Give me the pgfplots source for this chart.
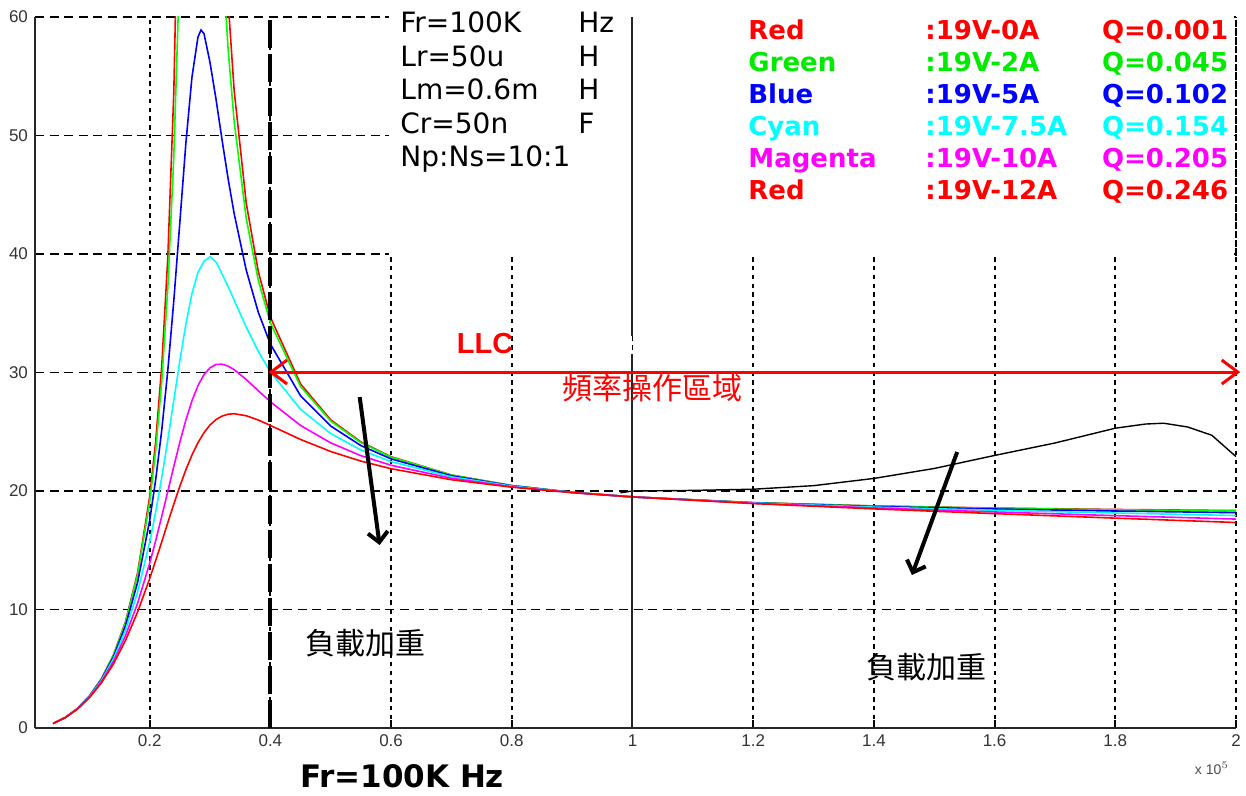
\documentclass[border=0pt]{standalone}
\usepackage{fontspec}
\setmainfont{Liberation Sans}
\newfontfamily\dejavu{DejaVu Sans}
\newfontfamily\cjk{Noto Sans CJK TC}
\usepackage{pgfplots}
\pgfplotsset{compat=1.18}
\usetikzlibrary{arrows.meta}

\definecolor{pred}{RGB}{255,0,0}
\definecolor{pgreen}{RGB}{0,255,0}
\definecolor{pblue}{RGB}{0,0,255}
\definecolor{pcyan}{RGB}{0,255,255}
\definecolor{pmag}{RGB}{255,0,255}
\definecolor{tgreen}{RGB}{0,235,0}

\begin{document}
\begin{tikzpicture}
\begin{axis}[
  at={(0pt,0pt)}, anchor=south west,
  scale only axis, width=600.5pt, height=355.5pt,
  xmin=0.01, xmax=2, ymin=0, ymax=60,
  axis lines=left, axis line style={-, line width=1pt, black!85},
  xtick={0.2,0.4,0.6,0.8,1,1.2,1.4,1.6,1.8,2},
  xticklabels={0.2,0.4,0.6,0.8,1,1.2,1.4,1.6,1.8,2},
  ytick={0,10,20,30,40,50,60},
  tick align=inside, major tick length=4pt,
  tick style={black, line width=0.9pt},
  tick label style={font=\fontsize{8.5}{8.5}\selectfont, text=black!80},
  /pgf/number format/assume math mode=true,
  grid=major,
  major x grid style={black, line width=0.9pt, dash pattern=on 2.2pt off 2.2pt},
  major y grid style={black, line width=0.9pt, dash pattern=on 4.5pt off 2.8pt},
  clip mode=individual,
  every axis plot/.append style={line width=0.8pt, mark=none},
]
% Q=0.001
\addplot[pred] coordinates {
(0.04,0.38)(0.06,0.88)(0.08,1.63)(0.10,2.69)(0.12,4.15)(0.14,6.16)(0.16,8.98)(0.18,13.10)
(0.20,19.50)(0.21,24.18)(0.22,30.54)(0.23,39.64)(0.24,53.66)(0.25,78.0)(0.26,130.5)(0.27,326)
(0.28,960)(0.29,211)(0.30,123.9)(0.31,90.2)(0.32,72.35)(0.33,61.30)(0.34,53.80)(0.36,44.29)
(0.38,38.52)(0.40,34.67)(0.45,29.03)(0.50,26.00)(0.55,24.14)(0.60,22.89)(0.70,21.35)(0.80,20.46)
(0.90,19.89)(1.0,19.50)(1.2,19.02)(1.4,18.74)(1.6,18.56)(1.8,18.44)(2.0,18.35)};
% Q=0.045
\addplot[pgreen] coordinates {
(0.04,0.38)(0.06,0.88)(0.08,1.63)(0.10,2.69)(0.12,4.13)(0.14,6.13)(0.16,8.91)(0.18,12.93)
(0.20,19.06)(0.21,23.44)(0.22,29.21)(0.23,37.10)(0.24,48.26)(0.25,64.65)(0.26,88.7)(0.27,117.7)
(0.28,130.4)(0.29,115.0)(0.30,93.6)(0.31,77.1)(0.32,65.51)(0.33,57.27)(0.34,51.19)(0.36,42.99)
(0.38,37.77)(0.40,34.19)(0.45,28.82)(0.50,25.90)(0.55,24.08)(0.60,22.86)(0.70,21.34)(0.80,20.45)
(0.90,19.89)(1.0,19.50)(1.2,19.01)(1.4,18.73)(1.6,18.54)(1.8,18.41)(2.0,18.32)};
% Q=0.102
\addplot[pblue] coordinates {
(0.04,0.38)(0.06,0.88)(0.08,1.63)(0.10,2.66)(0.12,4.08)(0.14,6.00)(0.16,8.63)(0.18,12.29)
(0.20,17.51)(0.21,20.96)(0.22,25.12)(0.23,30.15)(0.24,36.06)(0.25,42.67)(0.26,49.36)(0.27,54.89)
(0.28,58.3)(0.285,58.9)(0.29,58.6)(0.30,56.16)(0.31,53.04)(0.32,49.61)(0.33,46.34)(0.34,43.41)
(0.36,38.64)(0.38,35.08)(0.40,32.40)(0.45,28.03)(0.50,25.48)(0.55,23.83)(0.60,22.71)(0.70,21.28)
(0.80,20.44)(0.90,19.88)(1.0,19.50)(1.2,19.00)(1.4,18.69)(1.6,18.48)(1.8,18.31)(2.0,18.17)};
% Q=0.154
\addplot[pcyan] coordinates {
(0.04,0.38)(0.06,0.88)(0.08,1.61)(0.10,2.63)(0.12,4.00)(0.14,5.83)(0.16,8.24)(0.18,11.45)
(0.20,15.68)(0.21,18.25)(0.22,21.13)(0.23,24.30)(0.24,27.64)(0.25,30.99)(0.26,34.08)(0.27,36.65)
(0.28,38.44)(0.29,39.39)(0.30,39.76)(0.31,39.33)(0.32,38.30)(0.33,37.25)(0.34,36.10)(0.36,33.82)
(0.38,31.78)(0.40,30.05)(0.45,26.89)(0.50,24.85)(0.55,23.46)(0.60,22.48)(0.70,21.19)(0.80,20.41)
(0.90,19.88)(1.0,19.50)(1.2,18.99)(1.4,18.64)(1.6,18.37)(1.8,18.14)(2.0,17.93)};
% Q=0.205
\addplot[pmag] coordinates {
(0.04,0.38)(0.06,0.87)(0.08,1.60)(0.10,2.59)(0.12,3.90)(0.14,5.61)(0.16,7.78)(0.18,10.53)
(0.20,13.90)(0.21,15.81)(0.22,17.85)(0.23,19.96)(0.24,22.08)(0.25,24.12)(0.26,25.99)(0.27,27.60)
(0.28,28.89)(0.29,29.82)(0.30,30.40)(0.31,30.68)(0.32,30.70)(0.33,30.54)(0.34,30.24)(0.36,29.41)
(0.38,28.46)(0.40,27.53)(0.45,25.53)(0.50,24.06)(0.55,22.98)(0.60,22.17)(0.70,21.07)(0.80,20.36)
(0.90,19.87)(1.0,19.50)(1.2,18.96)(1.4,18.57)(1.6,18.23)(1.8,17.92)(2.0,17.63)};
% Q=0.246
\addplot[pred] coordinates {
(0.04,0.38)(0.06,0.87)(0.08,1.58)(0.10,2.55)(0.12,3.81)(0.14,5.41)(0.16,7.39)(0.18,9.79)
(0.20,12.60)(0.21,14.13)(0.22,15.71)(0.23,17.32)(0.24,18.89)(0.25,20.40)(0.26,21.79)(0.27,23.03)
(0.28,24.07)(0.29,24.92)(0.30,25.57)(0.31,26.03)(0.32,26.32)(0.33,26.48)(0.34,26.52)(0.36,26.35)
(0.38,25.99)(0.40,25.53)(0.45,24.35)(0.50,23.33)(0.55,22.52)(0.60,21.88)(0.70,20.95)(0.80,20.32)
(0.90,19.86)(1.0,19.50)(1.2,18.94)(1.4,18.49)(1.6,18.09)(1.8,17.71)(2.0,17.34)};
% black curve
\addplot[black, line width=0.7pt] coordinates {
(0.98,19.85)(1.0,20.0)(1.1,20.05)(1.2,20.15)(1.3,20.45)(1.4,21.06)(1.5,21.9)(1.6,23.0)
(1.7,24.05)(1.8,25.3)(1.85,25.65)(1.88,25.72)(1.92,25.4)(1.96,24.7)(2.0,22.9)};

% boxes that hide the grid behind the text
\fill[white] (axis cs:0.597,39.85) rectangle (axis cs:0.999,60.6);
\fill[white] (axis cs:1.001,39.85) rectangle (axis cs:1.997,60.6);
\draw[black, line width=0.9pt, dash pattern=on 2.2pt off 2.2pt] (axis cs:2,39.85) -- (axis cs:2,60);
% x = 1 line
\draw[black!85, line width=1pt] (axis cs:1,0) -- (axis cs:1,31.6);
\draw[black!85, line width=1pt] (axis cs:1,33.1) -- (axis cs:1,60);
% x = 0.4 line
\draw[black, line width=2pt, dash pattern=on 14pt off 3pt] (axis cs:0.4,0) -- (axis cs:0.4,60);
% load arrows
\draw[black, line width=2pt, -{Straight Barb[length=5pt,width=10pt]}] (axis cs:0.548,27.93) -- (axis cs:0.581,15.44);
\draw[black, line width=2pt, -{Straight Barb[length=5pt,width=10pt]}] (axis cs:1.538,23.29) -- (axis cs:1.463,12.91);
% LLC range
\draw[pred, line width=1.5pt, {Straight Barb[length=8pt,width=12pt]}-{Straight Barb[length=8pt,width=12pt]}] (axis cs:0.397,30.04) -- (axis cs:2.007,30.04);
\end{axis}

% parameters
\begin{scope}[every node/.style={anchor=base west, inner sep=0pt, font=\dejavu\fontsize{14}{14}\selectfont}]
\node at (182.5pt,347.5pt) {Fr=100K};
\node at (182.5pt,330.75pt) {Lr=50u};
\node at (182.5pt,314pt) {Lm=0.6m};
\node at (182.5pt,297.25pt) {Cr=50n};
\node at (182.5pt,280.5pt) {Np:Ns=10:1};
\node at (271.5pt,347.5pt) {Hz};
\node at (271.5pt,330.75pt) {H};
\node at (271.5pt,314pt) {H};
\node at (271.5pt,297.25pt) {F};
\end{scope}

% legend
\begin{scope}[every node/.style={anchor=base west, inner sep=0pt, font=\dejavu\bfseries\fontsize{13}{13}\selectfont}]
\node[text=pred] at (356.5pt,344.35pt) {Red};
\node[text=pred] at (445pt,344.35pt) {:19V-0A};
\node[text=pred] at (533.3pt,344.35pt) {Q=0.001};
\node[text=tgreen] at (356.5pt,328.3pt) {Green};
\node[text=tgreen] at (445pt,328.3pt) {:19V-2A};
\node[text=tgreen] at (533.3pt,328.3pt) {Q=0.045};
\node[text=pblue] at (356.5pt,312.25pt) {Blue};
\node[text=pblue] at (445pt,312.25pt) {:19V-5A};
\node[text=pblue] at (533.3pt,312.25pt) {Q=0.102};
\node[text=pcyan] at (356.5pt,296.2pt) {Cyan};
\node[text=pcyan] at (445pt,296.2pt) {:19V-7.5A};
\node[text=pcyan] at (533.3pt,296.2pt) {Q=0.154};
\node[text=pmag] at (356.5pt,280.15pt) {Magenta};
\node[text=pmag] at (445pt,280.15pt) {:19V-10A};
\node[text=pmag] at (533.3pt,280.15pt) {Q=0.205};
\node[text=pred] at (356.5pt,264.1pt) {Red};
\node[text=pred] at (445pt,264.1pt) {:19V-12A};
\node[text=pred] at (533.3pt,264.1pt) {Q=0.246};
\end{scope}

% annotations
\node[text=pred, font=\bfseries\fontsize{14.5}{14.5}\selectfont, anchor=base, inner sep=0pt] at (225pt,187pt) {LLC};
\node[text=pred, font=\cjk\fontsize{15}{15}\selectfont, inner sep=0pt] at (308.5pt,170pt) {頻率操作區域};
\node[font=\cjk\fontsize{15}{15}\selectfont, inner sep=0pt] at (165.25pt,42.5pt) {負載加重};
\node[font=\cjk\fontsize{15}{15}\selectfont, inner sep=0pt] at (445.75pt,30.5pt) {負載加重};

% axis label and multiplier
\node[font=\dejavu\bfseries\fontsize{15.5}{15.5}\selectfont, anchor=base, inner sep=0pt] at (183.5pt,-30pt) {Fr=100K Hz};
\node[font=\fontsize{7}{7}\selectfont, text=black!70, inner sep=0pt] at (588.5pt,-20pt) {x 10$^{5}$};

\pgfresetboundingbox
\path[use as bounding box] (-17.5pt,-34pt) rectangle (605.5pt,364pt);
\end{tikzpicture}
\end{document}
